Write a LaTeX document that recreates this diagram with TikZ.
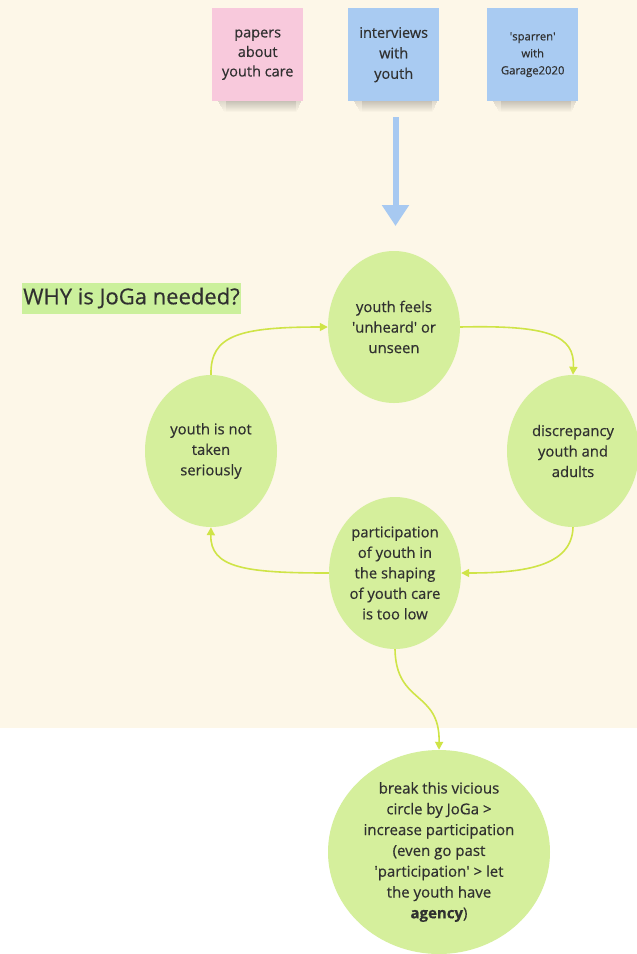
\documentclass[tikz,border=0pt]{standalone}
\usepackage{fontspec}
\setmainfont{Open Sans}[FakeBold=0.5]
\usetikzlibrary{shapes.geometric,arrows.meta}

\definecolor{bgcream}{HTML}{FDF7E8}
\definecolor{bubble}{HTML}{D5EF9C}
\definecolor{linkgreen}{HTML}{CFE447}
\definecolor{stickpink}{HTML}{F8C9DC}
\definecolor{stickblue}{HTML}{A9CBF2}
\definecolor{ink}{HTML}{303030}
\definecolor{flowblue}{HTML}{A7C9F1}
\definecolor{taggreen}{HTML}{CBF09C}

\newcommand{\sq}{\textquotesingle}

\begin{document}
\begin{tikzpicture}[x=1pt,y=-1pt,
  bubblenode/.style={ellipse, fill=bubble, inner sep=0pt,
    minimum width=132pt, minimum height=152pt, align=center, text=ink,
    font=\fontsize{14.8}{20.5}\selectfont},
  linkarrow/.style={draw=linkgreen, line width=1.6pt,
    -{Triangle[length=8pt,width=8pt]}},
  sticky/.style={minimum width=91pt, minimum height=93pt, inner sep=0pt,
    align=center, text=ink}
]
% canvas and backgrounds
\useasboundingbox (0,0) rectangle (637,954);
\fill[white] (0,0) rectangle (637,954);
\fill[bgcream] (0,0) rectangle (637,728);

% soft shadows beneath the sticky notes, fading downwards
\foreach \x in {212,348,487}{
  \foreach \i in {0,...,10}{
    \fill[black, opacity={0.12*(1-\i/11)}]
      (\x+6+0.6*\i,101+\i) rectangle (\x+89-0.4*\i,102+\i);
    \fill[black, opacity={0.10*(1-\i/11)}]
      (\x+14,101+\i) rectangle (\x+84,102+\i);
  }
}

% sticky notes
\node[sticky, fill=stickpink, anchor=north west,
  font=\fontsize{14.5}{19.5}\selectfont] (papers) at (212,8)
  {papers\\about\\youth care};
\node[sticky, fill=stickblue, anchor=north west,
  font=\fontsize{14.5}{20.5}\selectfont] (interviews) at (348,8)
  {interviews\\with\\youth};
\node[sticky, fill=stickblue, anchor=north west,
  font=\fontsize{11.3}{17}\selectfont] (sparren) at (487,8)
  {\sq sparren\sq\\with\\Garage2020};

% big blue arrow into the cycle
\coordinate (flowstart) at (395.5,117);
\coordinate (flowend) at (395.5,226);
\draw[flowblue, line width=6pt, -{Triangle[length=21pt,width=26pt]}]
  (flowstart) -- (flowend);

% title tag
\node[fill=taggreen, text=ink, anchor=west, inner xsep=1pt, inner ysep=3pt,
  minimum height=31pt, font=\fontsize{22}{24}\selectfont] (why)
  at (22,298) {WHY is JoGa needed?};

% the vicious circle
\node[bubblenode] (unheard) at (394,327) {youth feels\\\sq unheard\sq{} or\\unseen};
\node[bubblenode] (discrep) at (573,451) {discrepancy\\youth and\\adults};
\node[bubblenode] (particip) at (395,573)
  {participation\\of youth in\\the shaping\\of youth care\\is too low};
\node[bubblenode] (serious) at (211,451) {youth is not\\taken\\seriously};

\node[ellipse, fill=bubble, inner sep=0pt, minimum width=222pt,
  minimum height=204pt, align=center, text=ink,
  font=\fontsize{15}{20.8}\selectfont] (breakit) at (439,852)
  {break this vicious\\circle by JoGa >\\increase participation\\(even go past\\\sq participation\sq{} > let\\the youth have\\\textbf{agency})};

% connectors
\draw[linkarrow] (unheard.east) .. controls (548,325) and (575,335) .. (discrep.north);
\draw[linkarrow] (discrep.south) .. controls (572,566) and (525,573) .. (particip.east);
\draw[linkarrow] (particip.west) .. controls (245,573) and (210,568) .. (serious.south);
\draw[linkarrow] (serious.north) .. controls (210,335) and (240,327) .. (unheard.west);
\draw[linkarrow] (particip.south) .. controls (396,705) and (440,690) .. (breakit.north);
\end{tikzpicture}
\end{document}
